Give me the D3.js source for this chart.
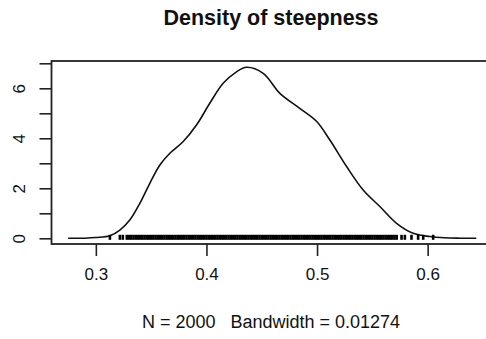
<!DOCTYPE html>
<html>
<head>
<meta charset="utf-8">
<script src="https://cdn.jsdelivr.net/npm/d3@7"></script>
<style>
  html, body { margin: 0; padding: 0; background: #fff; }
  svg { display: block; font-family: "Liberation Sans", Arial, sans-serif; }
</style>
</head>
<body>
<div id="chart"></div>
<script>
// valores (curva de densidade)
const densX = [0.275, 0.290, 0.300, 0.3127, 0.3217, 0.3307, 0.3398, 0.3488, 0.3579, 0.3669,
  0.379, 0.391, 0.403, 0.4151, 0.4272, 0.4362, 0.4513, 0.4664, 0.4844, 0.4995,
  0.5116, 0.5267, 0.5417, 0.5568, 0.5719, 0.5869, 0.602, 0.615, 0.630, 0.644];
const densY = [0, 0.005, 0.03, 0.1, 0.33, 0.73, 1.4, 2.2, 2.93, 3.4,
  3.87, 4.53, 5.4, 6.2, 6.66, 6.84, 6.6, 5.8, 5.2, 4.68,
  3.93, 2.87, 1.93, 1.27, 0.6, 0.2, 0.07, 0.02, 0.005, 0];

// posições do rug (observações)
const rugX = [0.3127, 0.3217, 0.3244,
  0.328, 0.330, 0.332, 0.334, 0.336, 0.338, 0.340, 0.342, 0.344, 0.346, 0.348,
  0.350, 0.352, 0.354, 0.356, 0.358, 0.360, 0.362, 0.364, 0.366, 0.368,
  0.370, 0.372, 0.374, 0.376, 0.378, 0.380, 0.382, 0.384, 0.386, 0.388,
  0.390, 0.392, 0.394, 0.396, 0.398, 0.400, 0.402, 0.404, 0.406, 0.408,
  0.410, 0.412, 0.414, 0.416, 0.418, 0.420, 0.422, 0.424, 0.426, 0.428,
  0.430, 0.432, 0.434, 0.436, 0.438, 0.440, 0.442, 0.444, 0.446, 0.448,
  0.450, 0.452, 0.454, 0.456, 0.458, 0.460, 0.462, 0.464, 0.466, 0.468,
  0.470, 0.472, 0.474, 0.476, 0.478, 0.480, 0.482, 0.484, 0.486, 0.488,
  0.490, 0.492, 0.494, 0.496, 0.498, 0.500, 0.502, 0.504, 0.506, 0.508,
  0.510, 0.512, 0.514, 0.516, 0.518, 0.520, 0.522, 0.524, 0.526, 0.528,
  0.530, 0.532, 0.534, 0.536, 0.538, 0.540, 0.542, 0.544, 0.546, 0.548,
  0.550, 0.552, 0.554, 0.556, 0.558, 0.560, 0.562, 0.564, 0.566, 0.568,
  0.570, 0.572,
  0.5764, 0.5794, 0.5854, 0.5914, 0.596, 0.605];

const xTicks = [0.3, 0.4, 0.5, 0.6];
const yTicks = [0, 1, 2, 3, 4, 5, 6, 7];
const yTickLabels = ['0', '', '2', '', '4', '', '6', ''];

const title = 'Density of steepness';
const subtitle = 'N = 2000   Bandwidth = 0.01274';

const W = 486, H = 339;
const box = { left: 51.5, right: 493, top: 61, bottom: 244 };

const svg = d3.select('#chart').append('svg')
  .attr('width', W)
  .attr('height', H);

// escalas (limites do R: faixa dos dados + 4%)
const x = d3.scaleLinear()
  .domain([0.2599, 0.6591])
  .range([box.left, box.right]);

const y = d3.scaleLinear()
  .domain([-0.228, 7.092])
  .range([box.bottom, box.top]);

// curva
const line = d3.line()
  .x((d, i) => x(densX[i]))
  .y(d => y(d))
  .curve(d3.curveCatmullRom.alpha(0.5));

svg.append('path')
  .datum(densY)
  .attr('d', line)
  .attr('fill', 'none')
  .attr('stroke', '#111')
  .attr('stroke-width', 1.6);

// rug
svg.append('g')
  .selectAll('line')
  .data(rugX)
  .enter()
  .append('line')
  .attr('x1', d => x(d))
  .attr('x2', d => x(d))
  .attr('y1', y(0) - 3.5)
  .attr('y2', y(0) + 1.5)
  .attr('stroke', '#000')
  .attr('stroke-width', 2.6);

// caixa
svg.append('rect')
  .attr('x', box.left)
  .attr('y', box.top)
  .attr('width', box.right - box.left)
  .attr('height', box.bottom - box.top)
  .attr('fill', 'none')
  .attr('stroke', '#222')
  .attr('stroke-width', 1.8);

// eixo X
const xAxisG = svg.append('g')
  .attr('transform', `translate(0,${box.bottom})`)
  .call(d3.axisBottom(x)
    .tickValues(xTicks)
    .tickSize(12)
    .tickSizeOuter(0)
    .tickPadding(12)
    .tickFormat(d3.format('.1f')));
xAxisG.select('.domain').remove();
xAxisG.selectAll('line').attr('stroke', '#222').attr('stroke-width', 1.6);
xAxisG.selectAll('text')
  .attr('font-family', '"Liberation Sans", Arial, sans-serif')
  .style('font-size', '17px')
  .attr('fill', '#111');

// eixo Y
const yAxisG = svg.append('g')
  .attr('transform', `translate(${box.left},0)`)
  .call(d3.axisLeft(y)
    .tickValues(yTicks)
    .tickSize(12)
    .tickSizeOuter(0)
    .tickFormat((d, i) => yTickLabels[i]));
yAxisG.select('.domain').remove();
yAxisG.selectAll('line').attr('stroke', '#222').attr('stroke-width', 1.6);
yAxisG.selectAll('text')
  .attr('x', 0)
  .attr('dy', null)
  .attr('text-anchor', 'middle')
  .attr('transform', 'translate(-26.5,0) rotate(-90)')
  .attr('font-family', '"Liberation Sans", Arial, sans-serif')
  .style('font-size', '17px')
  .attr('fill', '#111');

// título
svg.append('text')
  .attr('x', 271)
  .attr('y', 25)
  .attr('text-anchor', 'middle')
  .style('font-size', '21.5px')
  .style('font-weight', '700')
  .attr('fill', '#111')
  .text(title);

// subtítulo (espaços preservados)
svg.append('text')
  .attr('x', 271)
  .attr('y', 328)
  .attr('text-anchor', 'middle')
  .style('font-size', '18px')
  .style('white-space', 'pre')
  .attr('fill', '#111')
  .text(subtitle);
</script>
</body>
</html>
